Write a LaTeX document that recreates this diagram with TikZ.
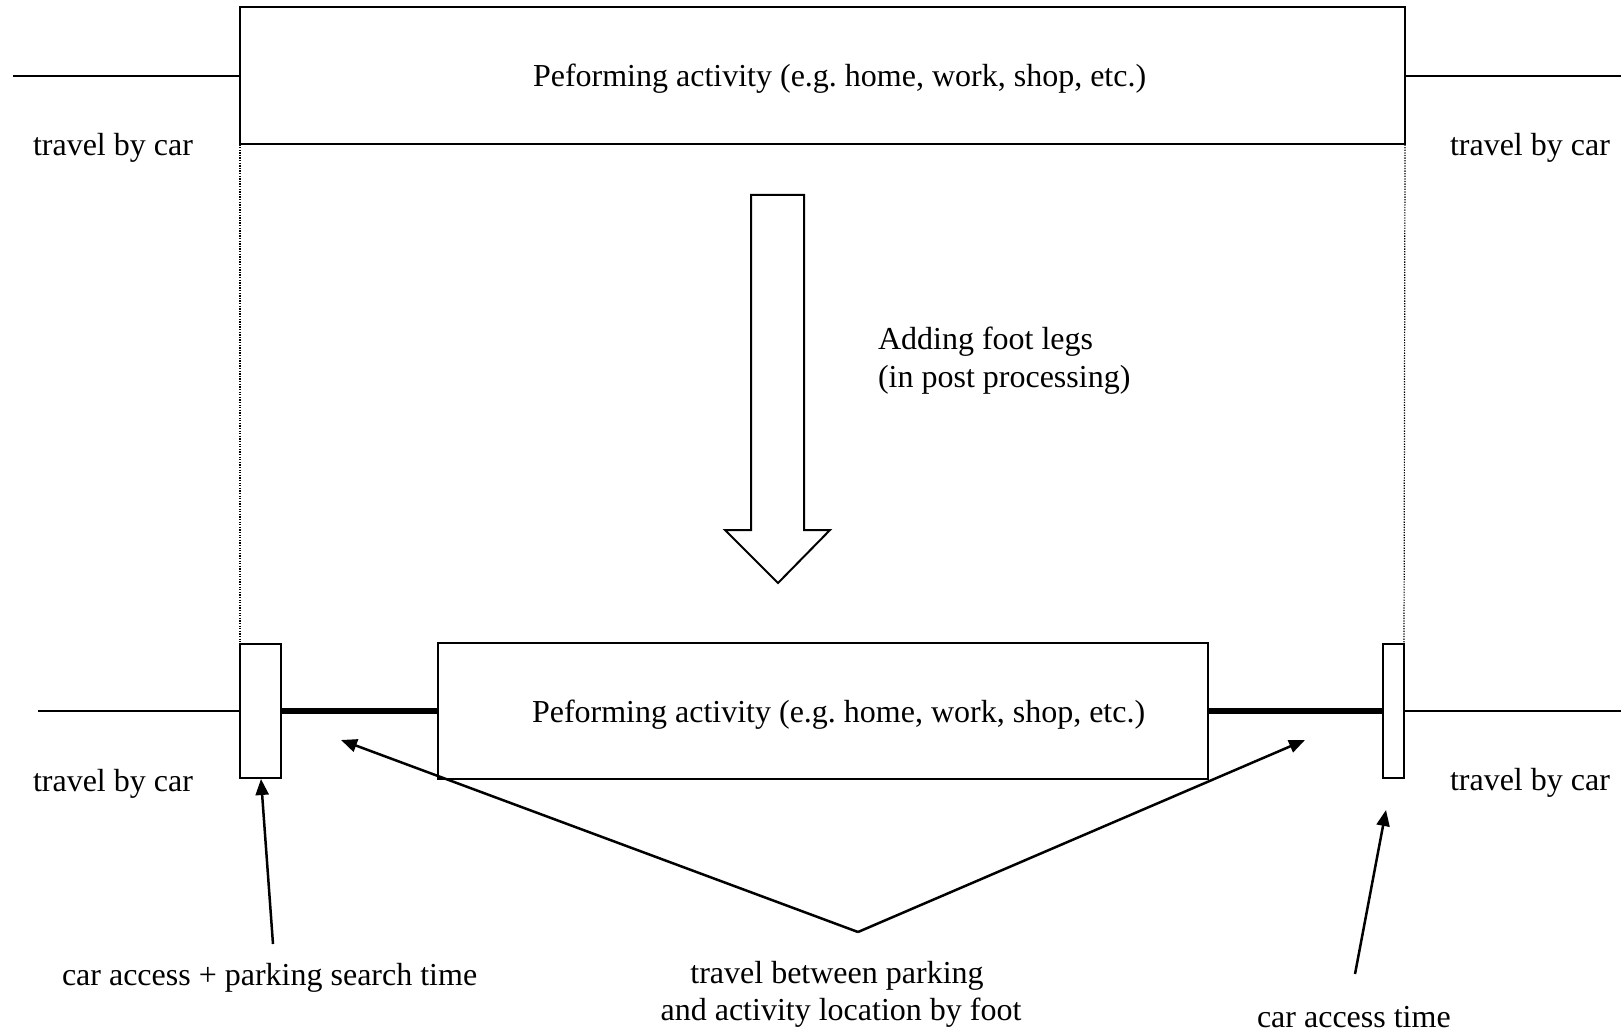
\documentclass[tikz,border=0pt]{standalone}
\usepackage{fontspec}
\setmainfont{Liberation Serif}
\usetikzlibrary{arrows.meta}

\tikzset{
  lbl/.style={inner sep=0pt, outer sep=0pt, font=\fontsize{32}{37}\selectfont},
  actbox/.style={draw, line width=2pt, inner sep=0pt, outer sep=0pt, fill=white},
  carline/.style={line width=2.8pt},
  thinline/.style={line width=2pt},
  footline/.style={line width=6.5pt},
  guide/.style={line width=1.2pt, dash pattern=on 1.3pt off 1.3pt},
  bigarrow/.style={draw, line width=2pt, fill=white, line join=miter},
  pointer/.style={line width=2.5pt, -{Triangle[length=16pt,width=13pt]}}
}

\begin{document}
\begin{tikzpicture}[x=1pt, y=-1pt]
  % page frame
  \fill[white] (0,0) rectangle (1621,1032);
  \useasboundingbox (0,0) rectangle (1621,1032);

  % ---- before: one activity between two car trips ----
  \node[actbox, minimum width=1165pt, minimum height=137pt] (topact) at (822.5,76) {};
  \node[lbl, anchor=base west] (toptext) at (533,86.5) {Peforming activity (e.g.\ home, work, shop, etc.)};
  \coordinate (tcarL) at (13,76);
  \coordinate (tcarR) at (1621,76);
  \draw[carline] (tcarL) -- (topact.west);
  \draw[carline] (topact.east) -- (tcarR);
  \node[lbl, anchor=base west] (tlabL) at (33,156) {travel by car};
  \node[lbl, anchor=base west] (tlabR) at (1450,156) {travel by car};

  % ---- transformation arrow ----
  \draw[bigarrow] (751,195) -- (804,195) -- (804,530) -- (830,530) -- (778,583)
                  -- (725,530) -- (751,530) -- cycle;
  \node[lbl, anchor=base west] (addA) at (878,349) {Adding foot legs};
  \node[lbl, anchor=base west] (addB) at (878,387) {(in post processing)};

  % ---- after: car access, foot legs and activity ----
  \node[actbox, minimum width=41pt, minimum height=134pt] (accL) at (260.5,711) {};
  \node[actbox, minimum width=21pt, minimum height=134pt] (accR) at (1393.5,711) {};
  \node[actbox, minimum width=770pt, minimum height=136pt] (midact) at (823,711) {};
  \node[lbl, anchor=base west] (midtext) at (532,722.5) {Peforming activity (e.g.\ home, work, shop, etc.)};

  \coordinate (bcarL) at (38,711);
  \coordinate (bcarR) at (1621,711);
  \draw[thinline] (bcarL) -- (accL.west);
  \draw[thinline] (accR.east) -- (bcarR);
  \draw[footline] (accL.east) -- (midact.west);
  \draw[footline] (midact.east) -- (accR.west);

  \node[lbl, anchor=base west] (blabL) at (33,791) {travel by car};
  \node[lbl, anchor=base west] (blabR) at (1450,790) {travel by car};

  % dotted guides linking the two time lines
  \draw[guide] (topact.south west) -- (accL.north west);
  \draw[guide] (topact.south east) -- (accR.north east);

  % ---- annotations ----
  \coordinate (vtip) at (858,932);
  \coordinate (footL) at (341,740);
  \coordinate (footR) at (1305,740);
  \draw[pointer] (vtip) -- (footL);
  \draw[pointer] (vtip) -- (footR);
  \node[lbl, anchor=base] (footA) at (837,983) {travel between parking};
  \node[lbl, anchor=base] (footB) at (841,1020) {and activity location by foot};

  \coordinate (parkTail) at (273,944);
  \coordinate (parkTip) at (261,779);
  \draw[pointer] (parkTail) -- (parkTip);
  \node[lbl, anchor=base west] (parkLab) at (62,985) {car access + parking search time};

  \coordinate (accTail) at (1355,974);
  \coordinate (accTip) at (1386,810);
  \draw[pointer] (accTail) -- (accTip);
  \node[lbl, anchor=base west] (accLab) at (1257,1027) {car access time};
\end{tikzpicture}
\end{document}
